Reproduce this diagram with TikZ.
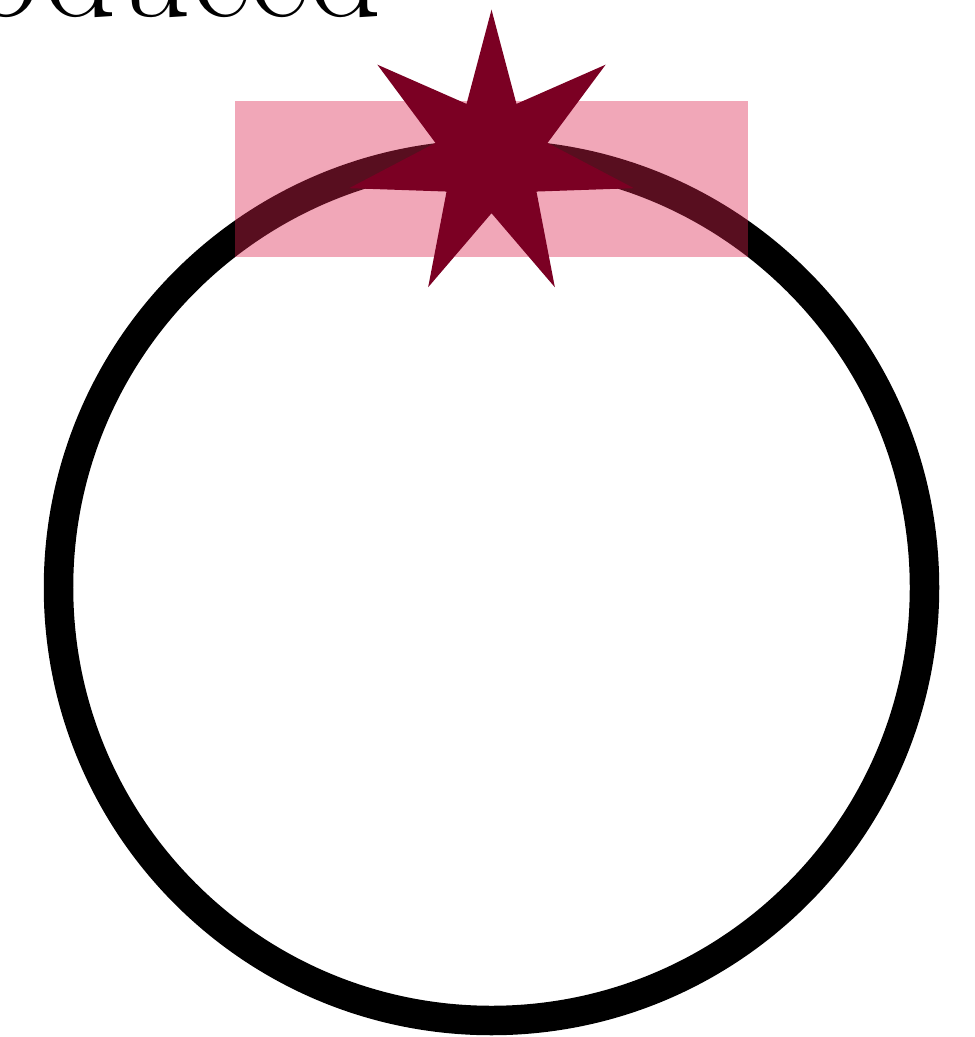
\documentclass[tikz,border=0pt]{standalone}
\usepackage{fontspec}
\definecolor{starred}{RGB}{123,0,35}
\definecolor{boxpink}{RGB}{220,36,78}
\tikzset{
  ring/.style={draw=black, line width=0.59cm},
  pinkbox/.style={fill=boxpink, fill opacity=0.4},
  starshape/.style={fill=starred},
  bigword/.style={font=\fontsize{82}{88}\selectfont, inner sep=0pt, anchor=base east}
}
\begin{document}
\begin{tikzpicture}[x=0.02cm,y=-0.02cm]
\useasboundingbox (0,0) rectangle (974,1037);
\draw[ring] (491.5,587.5) circle[radius=433];
\fill[pinkbox] (235,101) rectangle (748,257);
\fill[starshape] plot[samples at={0,...,13}, variable=\k]
  ({491.5+(101.75+44.25*cos(180*\k))*cos(90+\k*180/7)},
   {155.7-(101.75+44.25*cos(180*\k))*sin(90+\k*180/7)}) -- cycle;
\node[bigword] (word) at (382,17) {produced};
\end{tikzpicture}
\end{document}
